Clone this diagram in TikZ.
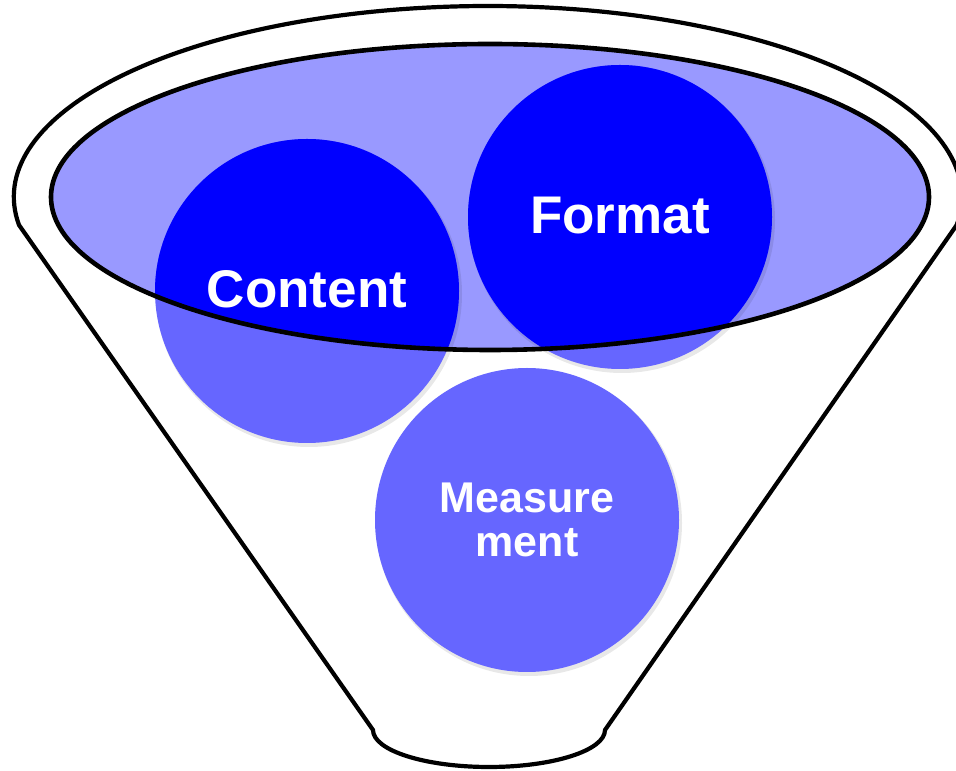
\documentclass[tikz,border=0pt]{standalone}
\usepackage{fontspec}
\setmainfont{Liberation Sans}
\definecolor{rimfill}{HTML}{9999FF}
\definecolor{ballfill}{HTML}{6666FF}
\definecolor{ballcore}{HTML}{0000FF}
\tikzset{
  outline/.style={line width=4.2pt, draw=black, line join=round},
  ball/.style={circle, minimum size=304pt, inner sep=0pt, fill=ballfill},
  ballshadow/.style={fill=black, opacity=0.09},
  bigtext/.style={text=white, font=\fontsize{53}{60}\selectfont\bfseries, anchor=base},
  smalltext/.style={text=white, font=\fontsize{43}{44}\selectfont\bfseries, align=center},
}
\begin{document}
\begin{tikzpicture}[x=1pt, y=1pt]
  \useasboundingbox (0,0) rectangle (956,771);

  % funnel body: upper rim arc, sloping sides, rounded spout
  \draw[outline, fill=white]
    (19,546) arc[start angle=188.43, end angle=-8.43, x radius=474pt, y radius=191pt]
    -- (605,41)
    arc[start angle=0, end angle=-180, x radius=116pt, y radius=37pt]
    -- cycle;

  % opening of the funnel
  \fill[rimfill] (490,574) ellipse[x radius=439pt, y radius=153pt];

  % soft shadows under the balls
  \fill[ballshadow] (309,477) circle[radius=153pt];
  \fill[ballshadow] (622,551) circle[radius=153pt];
  \fill[ballshadow] (529,248) circle[radius=153pt];

  % balls
  \node[ball] (content) at (307,480) {};
  \node[ball] (format) at (620,554) {};
  \node[ball] (measure) at (527,251) {};

  % parts of the balls seen through the opening
  \begin{scope}
    \clip (490,574) ellipse[x radius=439pt, y radius=153pt];
    \fill[ballcore] (content.center) circle[radius=152pt];
    \fill[ballcore] (format.center) circle[radius=152pt];
    \fill[ballcore] (measure.center) circle[radius=152pt];
  \end{scope}

  % rim of the opening
  \draw[outline, line width=4.6pt] (490,574) ellipse[x radius=439pt, y radius=153pt];

  % labels
  \node[bigtext] (contentlbl) at ([yshift=-17pt]content.center) {Content};
  \node[bigtext] (formatlbl) at ([yshift=-17pt]format.center) {Format};
  \node[smalltext] (measurelbl) at ([yshift=0pt]measure.center) {Measure\\ment};
\end{tikzpicture}
\end{document}
